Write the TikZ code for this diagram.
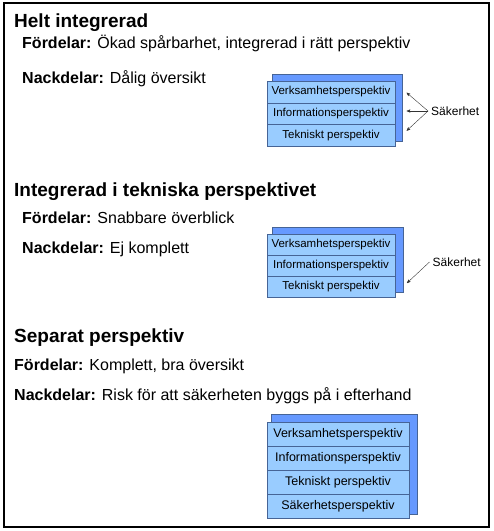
\documentclass[tikz,border=0pt]{standalone}
\usepackage{fontspec}
\setmainfont{Liberation Sans}
\usetikzlibrary{positioning,arrows}
\definecolor{frontblue}{RGB}{153,204,255}
\definecolor{backblue}{RGB}{102,153,255}
\definecolor{edgeblue}{RGB}{70,100,150}

\begin{document}
\begin{tikzpicture}[x=1pt,y=-1pt,>=stealth',
  head/.style={anchor=base west,inner sep=0pt,font=\fontsize{19}{22}\selectfont\bfseries},
  line/.style={anchor=base west,inner sep=0pt,font=\fontsize{16}{19}\selectfont},
  row/.style={rectangle,draw=edgeblue,fill=frontblue,inner sep=0pt,outer sep=0pt,
    minimum width=128pt,minimum height=21.7pt,font=\fontsize{11.5}{13}\selectfont},
  bigrow/.style={row,minimum width=142pt,minimum height=24pt,font=\fontsize{12.5}{14}\selectfont},
  back/.style={rectangle,draw=edgeblue,fill=backblue,inner sep=0pt},
  note/.style={anchor=west,inner sep=3pt,font=\fontsize{12}{14}\selectfont},
  pil/.style={->,thin,black!80}]
  \useasboundingbox (0,0) rectangle (494,531);
  \draw[line width=1.3pt] (4,3) rectangle (489,527);

  % Helt integrerad
  \node[head] (h1) at (14,27) {Helt integrerad};
  \node[line] (f1) at (22,48.5) {\textbf{Fördelar:} Ökad spårbarhet, integrerad i rätt perspektiv};
  \node[line] (n1) at (22,83) {\textbf{Nackdelar:} Dålig översikt};
  \node[back, minimum width=130pt, minimum height=67pt] (b1) at (337,107.5) {};
  \node[row] (v1) at (331,91.85) {Verksamhetsperspektiv};
  \node[row] (i1) [below=0pt of v1] {Informationsperspektiv};
  \node[row] (t1) [below=0pt of i1] {Tekniskt perspektiv};
  \node[note] (s1) at (428,111) {Säkerhet};
  \coordinate (p1) at (406.7,92.7);
  \coordinate (p2) at (406.7,111);
  \coordinate (p3) at (406.7,130.7);
  \path[pil] (s1.west) edge (p1) edge (p2) edge (p3);

  % Integrerad i tekniska perspektivet
  \node[head] (h2) at (14,196) {Integrerad i tekniska perspektivet};
  \node[line] (f2) at (22,223.3) {\textbf{Fördelar:} Snabbare överblick};
  \node[line] (n2) at (22,253) {\textbf{Nackdelar:} Ej komplett};
  \node[back, minimum width=131pt, minimum height=65pt] (b2) at (337.5,259.5) {};
  \node[row, minimum height=21.1pt] (v2) at (331,244.55) {Verksamhetsperspektiv};
  \node[row, minimum height=21.1pt] (i2) [below=0pt of v2] {Informationsperspektiv};
  \node[row, minimum height=21.1pt] (t2) [below=0pt of i2] {Tekniskt perspektiv};
  \node[note] (s2) at (429.5,262) {Säkerhet};
  \coordinate (q1) at (407,283);
  \path[pil] (s2.west) edge (q1);

  % Separat perspektiv
  \node[head] (h3) at (14,342) {Separat perspektiv};
  \node[line] (f3) at (14,370) {\textbf{Fördelar:} Komplett, bra översikt};
  \node[line] (n3) at (14,400.7) {\textbf{Nackdelar:} Risk för att säkerheten byggs på i efterhand};
  \node[back, minimum width=146pt, minimum height=100pt] (b3) at (344,464) {};
  \node[bigrow] (v3) at (338,434.3) {Verksamhetsperspektiv};
  \node[bigrow] (i3) [below=0pt of v3] {Informationsperspektiv};
  \node[bigrow] (t3) [below=0pt of i3] {Tekniskt perspektiv};
  \node[bigrow] (k3) [below=0pt of t3] {Säkerhetsperspektiv};
\end{tikzpicture}
\end{document}
